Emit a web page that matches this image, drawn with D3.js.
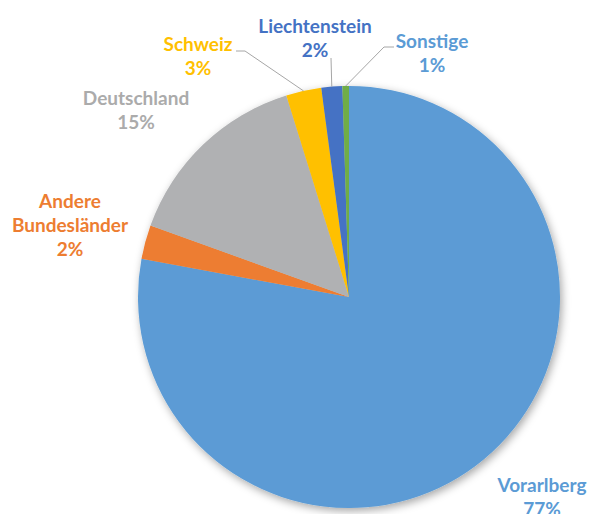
<!DOCTYPE html>
<html>
<head>
<meta charset="utf-8">
<script src="https://cdn.jsdelivr.net/npm/d3@7"></script>
<style>
  body { margin: 0; background: #fff; }
  svg { display: block; }
  .lbl { font-family: Lato, "Open Sans", sans-serif; font-weight: bold; font-size: 19px; }
</style>
</head>
<body>
<svg id="chart"></svg>
<script>
'use strict';

// chart data (clockwise from 12 o'clock)
var categories = ['Vorarlberg', 'Andere Bundesländer', 'Deutschland', 'Schweiz', 'Liechtenstein', 'Sonstige'];
var values = [77.9, 2.6, 14.7, 2.7, 1.6, 0.5];
var pctLabels = ['77%', '2%', '15%', '3%', '2%', '1%'];

// styling
var colors = ['#5B9BD5', '#ED7D31', '#B0B1B3', '#FFC000', '#4472C4', '#70AD47'];
var textColors = ['#5B9BD5', '#ED7D31', '#ABABAB', '#FFC000', '#4472C4', '#5B9BD5'];

// label placement (centre x, first baseline y), leader line start if any
var labelLayout = [
	{ x: 542, y: 492, lines: ['Vorarlberg'] },
	{ x: 70, y: 208, lines: ['Andere', 'Bundesländer'] },
	{ x: 136, y: 105, lines: ['Deutschland'] },
	{ x: 198, y: 51, lines: ['Schweiz'], leader: [[236, 51], [245, 51]] },
	{ x: 315, y: 33, lines: ['Liechtenstein'], leader: [[331, 58]] },
	{ x: 432, y: 48, lines: ['Sonstige'], leader: [[394, 47], [384, 47]] }
];

var width = 590, height = 514;
var cx = 349, cy = 297, radius = 211;
var lineHeight = 24;

var svg = d3.select('#chart')
	.attr('width', width)
	.attr('height', height);

// soft shadow like the office chart style
var defs = svg.append('defs');
var filter = defs.append('filter')
	.attr('id', 'shadow')
	.attr('x', '-20%').attr('y', '-20%')
	.attr('width', '140%').attr('height', '140%');
filter.append('feDropShadow')
	.attr('dx', 2).attr('dy', 3)
	.attr('stdDeviation', 4)
	.attr('flood-color', '#000')
	.attr('flood-opacity', 0.35);

var data = categories.map(function(c, i) {
	return { name: c, value: values[i], pct: pctLabels[i], color: colors[i], text: textColors[i], layout: labelLayout[i] };
});

var pie = d3.pie()
	.sort(null)
	.value(function(d) { return d.value; });

var arc = d3.arc().innerRadius(0).outerRadius(radius);
var edge = d3.arc().innerRadius(radius).outerRadius(radius);

var arcs = pie(data);

var g = svg.append('g').attr('transform', 'translate(' + cx + ',' + cy + ')');

g.append('g')
	.attr('filter', 'url(#shadow)')
	.selectAll('path')
	.data(arcs)
	.enter()
	.append('path')
	.attr('d', arc)
	.attr('fill', function(d) { return d.data.color; });

// leader lines
var line = d3.line();
svg.append('g')
	.selectAll('path')
	.data(arcs.filter(function(d) { return d.data.layout.leader; }))
	.enter()
	.append('path')
	.attr('d', function(d) {
		var c = edge.centroid(d);
		var pts = d.data.layout.leader.concat([[cx + c[0], cy + c[1]]]);
		return line(pts);
	})
	.attr('fill', 'none')
	.attr('stroke', '#A6A6A6')
	.attr('stroke-width', 1);

// labels
var labels = svg.append('g')
	.selectAll('text')
	.data(data)
	.enter()
	.append('text')
	.attr('class', 'lbl')
	.attr('text-anchor', 'middle')
	.attr('fill', function(d) { return d.text; });

labels.each(function(d) {
	var t = d3.select(this);
	var rows = d.layout.lines.concat([d.pct]);
	rows.forEach(function(r, i) {
		t.append('tspan')
			.attr('x', d.layout.x)
			.attr('y', d.layout.y + i * lineHeight)
			.text(r);
	});
});
</script>
</body>
</html>
